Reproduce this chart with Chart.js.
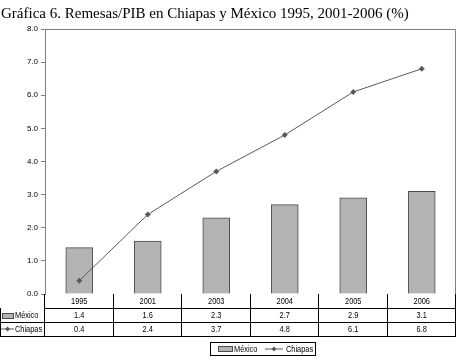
<!DOCTYPE html>
<html>
<head>
<meta charset="utf-8">
<script src="https://cdn.jsdelivr.net/npm/chart.js@4"></script>
<style>
  body { margin: 0; background: #fff; }
  canvas { display: block; }
</style>
</head>
<body>
<canvas id="grafica" width="460" height="361"></canvas>
<script>
const titulo = 'Gráfica 6. Remesas/PIB en Chiapas y México 1995, 2001-2006 (%)';
const anios = ['1995', '2001', '2003', '2004', '2005', '2006'];
const mexico = [1.4, 1.6, 2.3, 2.7, 2.9, 3.1];
const chiapas = [0.4, 2.4, 3.7, 4.8, 6.1, 6.8];

const fuenteChica = "9px 'Liberation Sans', Arial, sans-serif";
const grisBarra = '#b3b3b3';
const bordeBarra = '#4d4d4d';
const grisLinea = '#5a5a5a';
const grisEje = '#808080';

// texto angosto (la fuente original es condensada)
function textoAngosto(ctx, txt, x, y, align) {
    ctx.save();
    ctx.translate(x, y);
    ctx.scale(0.82, 1);
    ctx.textAlign = align;
    ctx.fillText(txt, 0, 0);
    ctx.restore();
}

// dibuja titulo, marco, tabla de datos y leyenda
const tablaPlugin = {
    id: 'tabla',
    afterDraw(chart) {
        const ctx = chart.ctx;
        const area = chart.chartArea;
        const x = chart.scales.x;
        const filaAlto = 14;
        const filas = [area.bottom, area.bottom + filaAlto, area.bottom + 2 * filaAlto, area.bottom + 3 * filaAlto];

        ctx.save();
        // titulo
        ctx.fillStyle = '#000';
        ctx.font = "15px 'Liberation Serif', 'Times New Roman', serif";
        ctx.textBaseline = 'alphabetic';
        ctx.textAlign = 'left';
        ctx.fillText(titulo, 1, 18);

        // marco del area
        ctx.strokeStyle = grisEje;
        ctx.lineWidth = 1;
        ctx.beginPath();
        ctx.moveTo(area.left, area.top + 0.5);
        ctx.lineTo(area.right - 0.5, area.top + 0.5);
        ctx.lineTo(area.right - 0.5, area.bottom);
        ctx.stroke();

        // lineas de la tabla
        ctx.strokeStyle = '#000';
        ctx.beginPath();
        for (let i = 1; i < filas.length; i++) {
            ctx.moveTo(i === 1 ? area.left : 0, filas[i] + 0.5);
            ctx.lineTo(area.right, filas[i] + 0.5);
        }
        ctx.moveTo(0.5, filas[1]);
        ctx.lineTo(0.5, filas[3] + 0.5);
        const paso = (area.right - area.left) / anios.length;
        for (let i = 0; i <= anios.length; i++) {
            const px = Math.round(area.left + paso * i) - 0.5;
            ctx.moveTo(px, filas[0]);
            ctx.lineTo(px, filas[3] + 0.5);
        }
        ctx.stroke();

        // textos de la tabla
        ctx.fillStyle = '#000';
        ctx.font = fuenteChica;
        ctx.textBaseline = 'middle';
        anios.forEach((a, i) => {
            const cx = x.getPixelForValue(i);
            textoAngosto(ctx, a, cx, filas[0] + filaAlto / 2 + 1, 'center');
            textoAngosto(ctx, mexico[i].toFixed(1), cx, filas[1] + filaAlto / 2 + 1, 'center');
            textoAngosto(ctx, chiapas[i].toFixed(1), cx, filas[2] + filaAlto / 2 + 1, 'center');
        });

        // etiquetas de series
        dibujarMuestraBarra(ctx, 2, filas[1] + 5, 11, 5);
        ctx.fillStyle = '#000';
        textoAngosto(ctx, 'México', 15, filas[1] + filaAlto / 2 + 1, 'left');
        dibujarMuestraLinea(ctx, 1, 14, filas[2] + filaAlto / 2);
        ctx.fillStyle = '#000';
        textoAngosto(ctx, 'Chiapas', 15, filas[2] + filaAlto / 2 + 1, 'left');

        // leyenda
        const lx = 210, ly = 342, lw = 105, lh = 13;
        ctx.strokeStyle = '#000';
        ctx.strokeRect(lx + 0.5, ly + 0.5, lw, lh);
        dibujarMuestraBarra(ctx, lx + 8, ly + 4, 14, 5);
        ctx.fillStyle = '#000';
        textoAngosto(ctx, 'México', lx + 24, ly + lh / 2 + 1, 'left');
        dibujarMuestraLinea(ctx, lx + 55, lx + 73, ly + lh / 2 + 0.5);
        ctx.fillStyle = '#000';
        textoAngosto(ctx, 'Chiapas', lx + 76, ly + lh / 2 + 1, 'left');
        ctx.restore();
    }
};

function dibujarMuestraBarra(ctx, x, y, w, h) {
    ctx.fillStyle = grisBarra;
    ctx.fillRect(x, y, w, h);
    ctx.strokeStyle = bordeBarra;
    ctx.lineWidth = 1;
    ctx.strokeRect(x + 0.5, y + 0.5, w, h);
}

function dibujarMuestraLinea(ctx, x1, x2, y) {
    ctx.strokeStyle = grisLinea;
    ctx.lineWidth = 1;
    ctx.beginPath();
    ctx.moveTo(x1, y);
    ctx.lineTo(x2, y);
    ctx.stroke();
    const cx = (x1 + x2) / 2;
    ctx.fillStyle = grisLinea;
    ctx.beginPath();
    ctx.moveTo(cx, y - 2.5);
    ctx.lineTo(cx + 2.5, y);
    ctx.lineTo(cx, y + 2.5);
    ctx.lineTo(cx - 2.5, y);
    ctx.closePath();
    ctx.fill();
}

new Chart(document.getElementById('grafica'), {
    type: 'bar',
    data: {
        labels: anios,
        datasets: [{
            type: 'line',
            label: 'Chiapas',
            data: chiapas,
            borderColor: grisLinea,
            backgroundColor: grisLinea,
            borderWidth: 1,
            pointStyle: 'rectRot',
            pointRadius: 3,
            pointBorderWidth: 0,
            tension: 0,
            order: 0
        }, {
            label: 'México',
            data: mexico,
            backgroundColor: grisBarra,
            borderColor: bordeBarra,
            borderWidth: 1,
            barThickness: 27,
            order: 1
        }]
    },
    options: {
        responsive: false,
        animation: false,
        layout: { padding: { left: 0, top: 29, right: 3, bottom: 67 } },
        scales: {
            x: { display: false, offset: true },
            y: {
                min: 0,
                max: 8,
                afterFit(scale) { scale.width = 45; },
                ticks: {
                    stepSize: 1,
                    color: '#000',
                    font: { family: "'Liberation Sans', Arial", size: 8 },
                    padding: 3,
                    callback: v => v.toFixed(1)
                },
                grid: { drawOnChartArea: false, drawTicks: true, tickLength: 4, color: grisEje },
                border: { display: true, color: grisEje }
            }
        },
        plugins: {
            legend: { display: false },
            tooltip: { enabled: false }
        }
    },
    plugins: [tablaPlugin]
});
</script>
</body>
</html>
